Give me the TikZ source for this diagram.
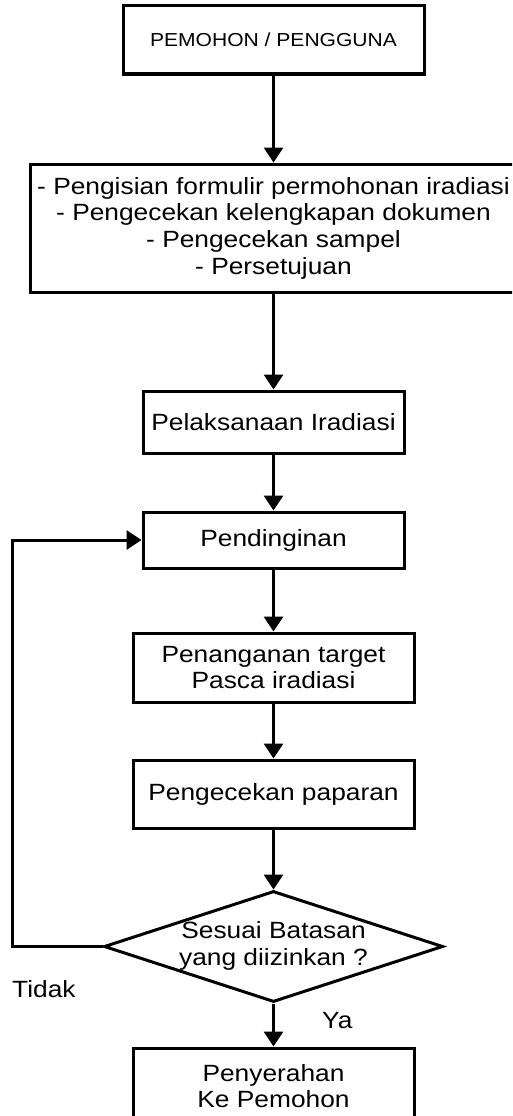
\documentclass[tikz,border=0pt]{standalone}
\usepackage{fontspec}
\setmainfont[FakeStretch=1.12]{Liberation Sans}
\usetikzlibrary{arrows.meta,shapes.geometric}
\newcommand{\mainsz}{\fontsize{23.5}{26.7}\selectfont}
\newcommand{\smallsz}{\fontsize{18.8}{22}\selectfont}
\tikzset{
  box/.style={draw, line width=3pt, inner sep=0pt, align=center, font=\mainsz},
  arr/.style={line width=3pt, -{Triangle[width=19pt,length=15pt]}},
  lbl/.style={inner sep=0pt, anchor=base west, font=\mainsz}
}
\begin{document}
\begin{tikzpicture}[x=1pt,y=-1pt]
\useasboundingbox (0,0) rectangle (512,1116);
\clip (0,0) rectangle (512,1116);
\node[box, minimum width=301, minimum height=68, font=\smallsz] (n1) at (273.5,40) {PEMOHON / PENGGUNA};
\node[box, minimum width=487, minimum height=128] (n2) at (273.5,228) {- Pengisian formulir permohonan iradiasi\\- Pengecekan kelengkapan dokumen\\- Pengecekan sampel\\- Persetujuan};
\node[box, minimum width=261, minimum height=62] (n3) at (273.5,422) {Pelaksanaan Iradiasi};
\node[box, minimum width=261, minimum height=56] (n4) at (273.5,540) {Pendinginan};
\node[box, minimum width=281, minimum height=69] (n5) at (273.5,667.5) {Penanganan target\\Pasca iradiasi};
\node[box, minimum width=281, minimum height=68] (n6) at (273.5,794) {Pengecekan paparan};
\node[box, diamond, minimum width=339, minimum height=111] (d) at (273.5,946.5) {};
\node[inner sep=0pt, align=center, font=\mainsz] (dt) at (273.5,946) {Sesuai Batasan\\yang diizinkan ?};
\node[box, minimum width=281, minimum height=76] (n7) at (273.5,1086) {Penyerahan\\Ke Pemohon};
\coordinate (fb) at (12,540);
\node[lbl] (tidak) at (12,997) {Tidak};
\node[lbl] (ya) at (322,1028) {Ya};
\draw[arr] (n1.south) -- (n2.north);
\draw[arr] (n2.south) -- (n3.north);
\draw[arr] (n3.south) -- (n4.north);
\draw[arr] (n4.south) -- (n5.north);
\draw[arr] (n5.south) -- (n6.north);
\draw[arr] (n6.south) -- (d.north);
\draw[arr] (d.south) -- (n7.north);
\draw[arr] (d.west) -| (fb) -- (n4.west);
\end{tikzpicture}
\end{document}
